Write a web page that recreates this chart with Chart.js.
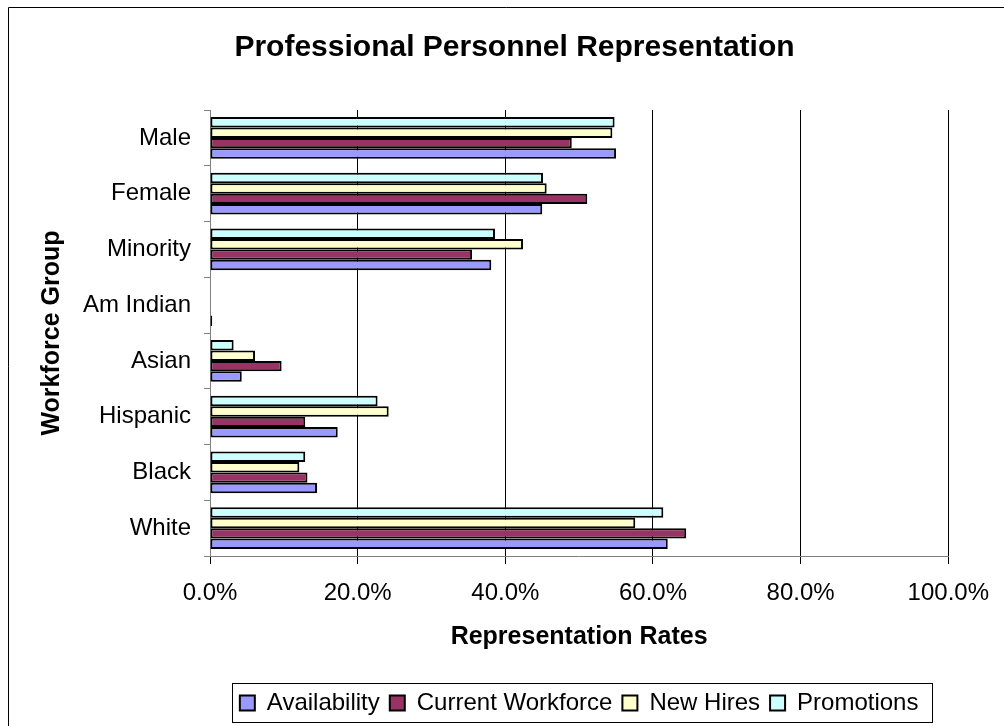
<!DOCTYPE html>
<html>
<head>
<meta charset="utf-8">
<script src="https://cdn.jsdelivr.net/npm/chart.js@4/dist/chart.umd.min.js"></script>
<style>
  html, body { margin: 0; padding: 0; background: #fff; }
  canvas { display: block; }
</style>
</head>
<body>
<canvas id="repChart" width="1004" height="726"></canvas>
<script>
// categories, top to bottom
const categories = ["Male", "Female", "Minority", "Am Indian", "Asian", "Hispanic", "Black", "White"];

// representation rates in percent
const availability     = [55.0, 45.0, 38.1, 0.3, 4.3, 17.3, 14.5, 62.0];
const currentWorkforce = [49.0, 51.1, 35.5, 0.0, 9.7, 12.9, 13.2, 64.5];
const newHires         = [54.5, 45.6, 42.4, 0.0, 6.1, 24.2, 12.1, 57.6];
const promotions       = [54.8, 45.1, 38.6, 0.0, 3.2, 22.7, 12.9, 61.4];

const xTicks = [0, 20, 40, 60, 80, 100];

const FONT = "'Liberation Sans', Arial, sans-serif";

// outer frame + white background, legend border
const framePlugin = {
  id: "frame",
  beforeDraw(chart) {
    const ctx = chart.ctx;
    ctx.save();
    ctx.fillStyle = "#fff";
    ctx.fillRect(0, 0, chart.width, chart.height);
    ctx.strokeStyle = "#000";
    ctx.lineWidth = 1;
    ctx.beginPath();
    ctx.moveTo(8.5, chart.height);
    ctx.lineTo(8.5, 7.5);
    ctx.lineTo(chart.width, 7.5);
    ctx.stroke();
    ctx.restore();
  },
  afterDraw(chart) {
    const hb = chart.legend.legendHitBoxes;
    if (!hb || !hb.length) return;
    let left = Infinity, right = -Infinity;
    hb.forEach(h => {
      left = Math.min(left, h.left);
      right = Math.max(right, h.left + h.width);
    });
    const top = hb[0].top;
    const ctx = chart.ctx;
    ctx.save();
    ctx.strokeStyle = "#000";
    ctx.lineWidth = 1;
    ctx.strokeRect(Math.round(left - 8) + 0.5, Math.round(top - 8) + 0.5,
                   Math.round(right - left + 21), Math.round(hb[0].height + 15));
    ctx.restore();
  }
};

Chart.defaults.font.family = FONT;
Chart.defaults.color = "#000";

function makeSet(label, data, color) {
  return {
    label: label,
    data: data,
    backgroundColor: color,
    borderColor: "#000",
    borderWidth: 2,
    borderSkipped: false,
    barPercentage: 1.0,
    categoryPercentage: 0.75
  };
}

new Chart(document.getElementById("repChart"), {
  type: "bar",
  data: {
    labels: categories,
    // dataset 0 sits at the top of each group, so order is reversed here
    datasets: [
      makeSet("Promotions", promotions, "#CCFFFF"),
      makeSet("New Hires", newHires, "#FFFFCC"),
      makeSet("Current Workforce", currentWorkforce, "#993366"),
      makeSet("Availability", availability, "#9999FF")
    ]
  },
  options: {
    indexAxis: "y",
    responsive: false,
    animation: false,
    devicePixelRatio: 1,
    layout: { padding: { left: 79, right: 54, top: 0, bottom: 1 } },
    scales: {
      x: {
        min: 0,
        max: 100,
        afterBuildTicks: s => { s.ticks = xTicks.map(v => ({ value: v })); },
        afterFit: s => { s.height = 125; },
        ticks: {
          padding: 15,
          font: { size: 24 },
          callback: v => v.toFixed(1) + "%"
        },
        grid: { color: "#000", lineWidth: 1, tickLength: 8 },
        border: { color: "#808080", width: 1 },
        title: {
          display: true,
          text: "Representation Rates",
          font: { size: 25, weight: "bold" },
          padding: { top: 0, bottom: 29 }
        }
      },
      y: {
        afterFit: s => { s.width = 131; },
        ticks: { padding: 13, font: { size: 24 } },
        grid: { drawOnChartArea: false, color: "#808080", tickLength: 6, offset: true },
        border: { color: "#808080", width: 1 },
        title: {
          display: true,
          text: "Workforce Group",
          font: { size: 25, weight: "bold" },
          padding: { top: -42, bottom: 0 }
        }
      }
    },
    plugins: {
      title: {
        display: true,
        text: "Professional Personnel Representation",
        font: { size: 30, weight: "bold" },
        color: "#000",
        padding: { top: 29.5, bottom: 44.5 }
      },
      legend: {
        position: "bottom",
        fullSize: false,
        reverse: true,
        labels: {
          boxWidth: 15,
          boxHeight: 15,
          padding: 10,
          font: { size: 24 },
          color: "#000"
        }
      },
      tooltip: { enabled: false }
    }
  },
  plugins: [framePlugin]
});
</script>
</body>
</html>
